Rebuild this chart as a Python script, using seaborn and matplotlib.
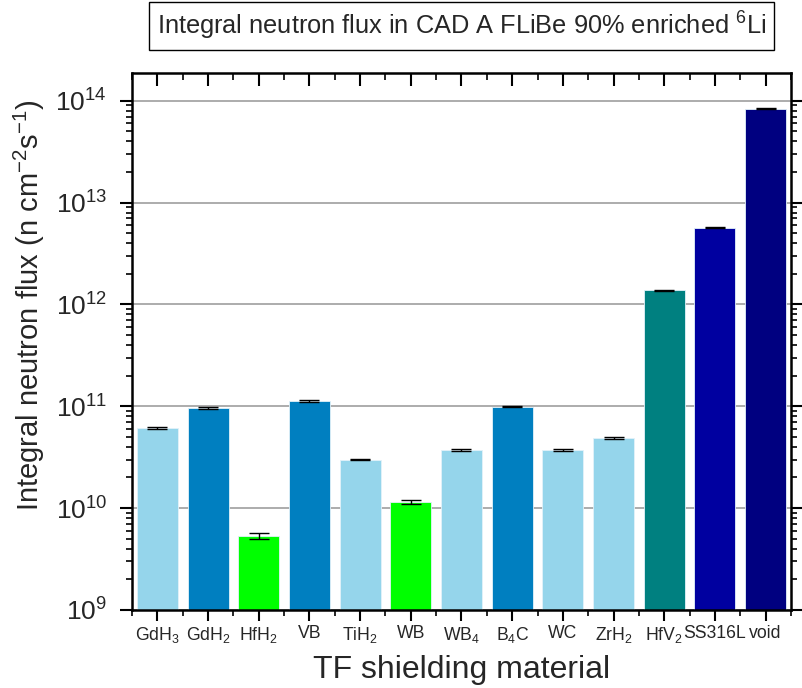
import matplotlib
matplotlib.use("Agg")
import matplotlib.pyplot as plt
from matplotlib.ticker import LogLocator, FixedLocator, NullFormatter
import numpy as np
import pandas as pd
import seaborn as sns

# Materials and integral neutron flux (n cm^-2 s^-1)
materials = ["GdH$_3$", "GdH$_2$", "HfH$_2$", "VB", "TiH$_2$", "WB", "WB$_4$",
             "B$_4$C", "WC", "ZrH$_2$", "HfV$_2$", "SS316L", "void"]
flux = [6.1e10, 9.6e10, 5.3e9, 1.13e11, 3.0e10, 1.16e10, 3.7e10,
        9.9e10, 3.75e10, 4.85e10, 1.38e12, 5.7e12, 8.4e13]
flux_err = [1.5e9, 2.0e9, 3.5e8, 1.5e9, 6.0e8, 5.0e8, 8.0e8,
            1.0e9, 1.0e9, 1.2e9, 1.0e10, 3.0e10, 2.0e11]
bar_colors = ["#95D5EB", "#007FC0", "#00FF00", "#007FC0", "#95D5EB", "#00FF00",
              "#95D5EB", "#007FC0", "#95D5EB", "#95D5EB", "#008080", "#0000A0",
              "#000080"]

sns.set_theme(style="white")
plt.rcParams["font.family"] = ["Liberation Sans", "DejaVu Sans"]
plt.rcParams["mathtext.fontset"] = "custom"
plt.rcParams["mathtext.rm"] = "Liberation Sans"
plt.rcParams["mathtext.it"] = "Liberation Sans"
plt.rcParams["mathtext.default"] = "regular"

df = pd.DataFrame({"material": materials, "flux": flux})

fig = plt.figure(figsize=(8.03, 6.88), dpi=100)
ax = fig.add_axes([0.1644, 0.1134, 0.8206, 0.78])

sns.barplot(data=df, x="material", y="flux", hue="material",
            palette=bar_colors, saturation=1, legend=False, errorbar=None,
            width=0.81, edgecolor="#E3F2F9", linewidth=0.6, ax=ax, zorder=2,
            log_scale=(False, True))
ax.errorbar(np.arange(len(materials)), flux, yerr=flux_err, fmt="none",
            ecolor="black", elinewidth=1.0, capsize=7, capthick=1.0, zorder=3)

ax.set_yscale("log")
ax.set_ylim(1e9, 10 ** 14.27)
ax.set_xlim(-0.5, len(materials) - 0.5)

ax.yaxis.set_major_locator(LogLocator(base=10, numticks=20))
ax.yaxis.set_minor_locator(LogLocator(base=10, subs=np.arange(2, 10), numticks=20))
ax.yaxis.set_minor_formatter(NullFormatter())
ax.xaxis.set_minor_locator(FixedLocator(np.arange(-0.5, len(materials), 1.0)))

ax.grid(axis="y", which="major", color="#A6A6A6", linewidth=1.3, zorder=0)
ax.grid(axis="x", visible=False)
ax.set_axisbelow(True)

for side in ["left", "right", "top", "bottom"]:
    ax.spines[side].set_visible(True)
    ax.spines[side].set_color("black")
    ax.spines[side].set_linewidth(1.8)

ax.tick_params(axis="x", which="major", direction="out", length=8, width=1.5,
               color="black", bottom=True, top=False, labelsize=12.7, pad=3)
ax.tick_params(axis="x", which="minor", direction="out", length=4, width=1.2,
               color="black", bottom=True, top=False)
ax.tick_params(axis="y", which="major", direction="out", length=9, width=1.5,
               color="black", left=True, right=True, labelsize=19, pad=9)
ax.tick_params(axis="y", which="minor", direction="out", length=4.5, width=1.2,
               color="black", left=True, right=True)

# inward tick marks hanging from the top frame edge, placed in data units
y_top = ax.get_ylim()[1]
axes_h_px = ax.get_position().height * fig.get_figheight() * fig.dpi
decades = np.log10(ax.get_ylim()[1]) - np.log10(ax.get_ylim()[0])
px_per_decade = axes_h_px / decades
major_len_px, minor_len_px = 13.0, 6.5
centers = np.arange(len(materials))
edges = np.arange(-0.5, len(materials), 1.0)
ax.vlines(centers, y_top / 10 ** (major_len_px / px_per_decade), y_top,
          colors="black", linewidth=1.5, zorder=6, clip_on=False)
ax.vlines(edges, y_top / 10 ** (minor_len_px / px_per_decade), y_top,
          colors="black", linewidth=1.2, zorder=6, clip_on=False)
ax.set_ylim(1e9, y_top)

ax.set_xlabel("TF shielding material", fontsize=23, labelpad=7)
ax.set_ylabel("Integral neutron flux (n cm$^{-2}$s$^{-1}$)", fontsize=21, labelpad=6)
ax.yaxis.label.set_y(0.568)

fig.text(0.575, 0.962, "Integral neutron flux in CAD A FLiBe 90% enriched $^{6}$Li",
         ha="center", va="center", fontsize=18.3,
         bbox=dict(boxstyle="square,pad=0.3", facecolor="white",
                   edgecolor="black", linewidth=1.0))

fig.savefig("out.png", dpi=100)
